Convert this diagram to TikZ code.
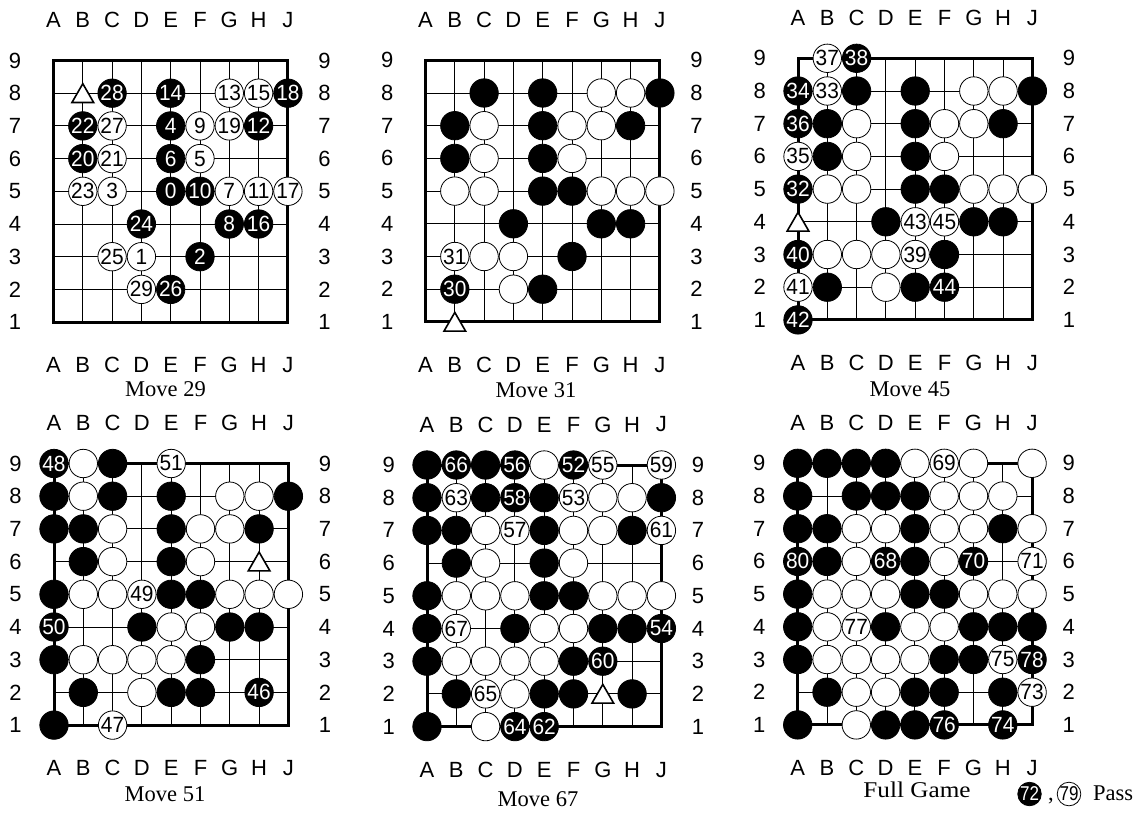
\documentclass[tikz,border=0pt]{standalone}
\usepackage{fontspec}
\setmainfont{Liberation Serif}
\setsansfont{Liberation Sans}
\newfontfamily\lblf{Liberation Sans}[Scale=2.2]
\newfontfamily\stf{Liberation Sans}[Scale=2.2]
\newfontfamily\legf{Liberation Sans}[Scale=2.0]
\newfontfamily\capf{Liberation Serif}[Scale=2.25]
\usepackage{graphicx}
\usetikzlibrary{shapes.geometric}

\tikzset{
  gridline/.style={line width=0.9pt, black},
  edge/.style={line width=3pt, line join=miter},
  lbl/.style={font=\lblf, inner sep=0pt},
  stonebase/.style={circle, inner sep=0pt, minimum size=28.4pt, line width=0.8pt, draw=black, font=\stf},
  bstone/.style={stonebase, fill=black, text=white},
  wstone/.style={stonebase, fill=white, text=black},
  trimark/.style={regular polygon, regular polygon sides=3, draw=black, fill=white, line width=1.6pt, minimum size=25pt, inner sep=0pt, yshift=-3pt},
  captext/.style={font=\capf, inner sep=0pt, anchor=base},
}

\newcommand\snum[1]{\scalebox{0.95}[1]{#1}}
\newcommand\Bst[3]{\node[bstone] (\bp-#1#2) at (#1-1,9-#2) {\snum{#3}};}
\newcommand\Wst[3]{\node[wstone] (\bp-#1#2) at (#1-1,9-#2) {\snum{#3}};}
\newcommand\Tri[2]{\node[trimark] (\bp-t#1#2) at (#1-1,9-#2) {};}

\newcommand\goboard[4]{%
 \begin{scope}[shift={(#2,#3)}, x=29.3pt, y=-32.7pt]
  \def\bp{#1}
  \foreach \i in {1,...,7}{\draw[gridline] (\i,0) -- (\i,8); \draw[gridline] (0,\i) -- (8,\i);}
  \draw[edge] (0,0) rectangle (8,8);
  \foreach \l [count=\i from 0] in {A,B,C,D,E,F,G,H,J}{%
    \node[lbl] (#1-top\l) at (\i,-1.24) {\l};
    \node[lbl] (#1-bot\l) at (\i,9.32) {\l};}
  \foreach \r in {1,...,9}{%
    \node[lbl] (#1-left\r) at (-1.31,9-\r) {\r};
    \node[lbl] (#1-right\r) at (9.25,9-\r) {\r};}
  #4
 \end{scope}}

\begin{document}
\begin{tikzpicture}[x=1pt, y=-1pt]
\useasboundingbox (0,0) rectangle (1145,812);

% Board 1: Move 29
\goboard{ba}{53.5}{60.5}{%
 \Tri28
 \Bst38{28}\Bst58{14}\Bst98{18}\Bst27{22}\Bst57{4}\Bst87{12}\Bst26{20}\Bst56{6}
 \Bst55{0}\Bst65{10}\Bst44{24}\Bst74{8}\Bst84{16}\Bst63{2}\Bst52{26}
 \Wst78{13}\Wst88{15}\Wst37{27}\Wst67{9}\Wst77{19}\Wst36{21}\Wst66{5}
 \Wst25{23}\Wst35{3}\Wst75{7}\Wst85{11}\Wst95{17}\Wst33{25}\Wst43{1}\Wst42{29}
}

% Board 2: Move 31
\goboard{bb}{425.5}{60.3}{%
 \Bst38{}\Bst58{}\Bst98{}\Bst27{}\Bst57{}\Bst87{}\Bst26{}\Bst56{}\Bst55{}\Bst65{}
 \Bst44{}\Bst74{}\Bst84{}\Bst63{}\Bst52{}\Bst22{30}
 \Wst78{}\Wst88{}\Wst37{}\Wst67{}\Wst77{}\Wst36{}\Wst66{}\Wst25{}\Wst35{}\Wst75{}
 \Wst85{}\Wst95{}\Wst23{31}\Wst33{}\Wst43{}\Wst42{}
 \Tri21
}

% Board 3: Move 45
\goboard{bc}{798}{58.3}{%
 \Bst39{38}\Bst18{34}\Bst38{}\Bst58{}\Bst98{}\Bst17{36}\Bst27{}\Bst57{}\Bst87{}
 \Bst26{}\Bst56{}\Bst15{32}\Bst55{}\Bst65{}\Bst44{}\Bst74{}\Bst84{}\Bst13{40}
 \Bst63{}\Bst22{}\Bst52{}\Bst62{44}\Bst11{42}
 \Wst29{37}\Wst28{33}\Wst78{}\Wst88{}\Wst37{}\Wst67{}\Wst77{}\Wst16{35}\Wst36{}
 \Wst66{}\Wst25{}\Wst35{}\Wst75{}\Wst85{}\Wst95{}\Wst54{43}\Wst64{45}\Wst23{}
 \Wst33{}\Wst43{}\Wst53{39}\Wst12{41}\Wst42{}
 \Tri14
}

% Board 4: Move 51
\goboard{bd}{54}{463.5}{%
 \Bst19{48}\Bst39{}\Bst18{}\Bst38{}\Bst58{}\Bst98{}\Bst17{}\Bst27{}\Bst57{}\Bst87{}
 \Bst26{}\Bst56{}\Bst15{}\Bst55{}\Bst65{}\Bst14{50}\Bst44{}\Bst74{}\Bst84{}
 \Bst13{}\Bst63{}\Bst22{}\Bst52{}\Bst62{}\Bst82{46}\Bst11{}
 \Wst29{}\Wst59{51}\Wst28{}\Wst78{}\Wst88{}\Wst37{}\Wst67{}\Wst77{}\Wst36{}\Wst66{}
 \Wst25{}\Wst35{}\Wst45{49}\Wst75{}\Wst85{}\Wst95{}\Wst54{}\Wst64{}\Wst23{}\Wst33{}
 \Wst43{}\Wst53{}\Wst42{}\Wst31{47}
 \Tri86
}

% Board 5: Move 67
\goboard{be}{427}{465}{%
 \Bst19{}\Bst29{66}\Bst39{}\Bst49{56}\Bst69{52}\Bst18{}\Bst38{}\Bst48{58}\Bst58{}\Bst98{}
 \Bst17{}\Bst27{}\Bst57{}\Bst87{}\Bst26{}\Bst56{}\Bst15{}\Bst55{}\Bst65{}
 \Bst14{}\Bst44{}\Bst74{}\Bst84{}\Bst94{54}\Bst13{}\Bst63{}\Bst73{60}
 \Bst22{}\Bst52{}\Bst62{}\Bst82{}\Bst11{}\Bst41{64}\Bst51{62}
 \Wst59{}\Wst79{55}\Wst99{59}\Wst28{63}\Wst68{53}\Wst78{}\Wst88{}\Wst37{}\Wst47{57}
 \Wst67{}\Wst77{}\Wst97{61}\Wst36{}\Wst66{}\Wst25{}\Wst35{}\Wst45{}\Wst75{}\Wst85{}
 \Wst95{}\Wst24{67}\Wst54{}\Wst64{}\Wst23{}\Wst33{}\Wst43{}\Wst53{}\Wst32{65}
 \Wst42{}\Wst31{}
 \Tri72
}

% Board 6: Full Game
\goboard{bf}{797.7}{463.3}{%
 \Bst19{}\Bst29{}\Bst39{}\Bst49{}\Bst18{}\Bst38{}\Bst48{}\Bst58{}\Bst17{}\Bst27{}
 \Bst57{}\Bst87{}\Bst16{80}\Bst26{}\Bst46{68}\Bst56{}\Bst76{70}\Bst15{}\Bst55{}
 \Bst65{}\Bst14{}\Bst44{}\Bst74{}\Bst84{}\Bst94{}\Bst13{}\Bst63{}\Bst73{}\Bst93{78}
 \Bst22{}\Bst52{}\Bst62{}\Bst82{}\Bst11{}\Bst41{}\Bst51{}\Bst61{76}\Bst81{74}
 \Wst59{}\Wst69{69}\Wst79{}\Wst99{}\Wst68{}\Wst78{}\Wst88{}\Wst37{}\Wst47{}\Wst67{}
 \Wst77{}\Wst97{}\Wst36{}\Wst66{}\Wst96{71}\Wst25{}\Wst35{}\Wst45{}\Wst75{}\Wst85{}
 \Wst95{}\Wst24{}\Wst34{77}\Wst54{}\Wst64{}\Wst23{}\Wst33{}\Wst43{}\Wst53{}
 \Wst83{75}\Wst32{}\Wst42{}\Wst92{73}\Wst31{}
}

% Captions
\node[captext] (cap1) at (165.5,396.7) {Move 29};
\node[captext] (cap2) at (536,397) {Move 31};
\node[captext] (cap3) at (910,396) {Move 45};
\node[captext] (cap4) at (165,801.7) {Move 51};
\node[captext] (cap5) at (538,806) {Move 67};
\node[captext] (cap6) at (917,797.3) {\scalebox{1.12}[1]{Full Game}};

% Legend
\node[bstone, minimum size=22.5pt, font=\legf] (leg72) at (1029.5,794) {\scalebox{0.85}[1]{72}};
\node[captext] (legcomma) at (1051,800.7) {,};
\node[wstone, minimum size=22pt, font=\legf] (leg79) at (1069,794) {\scalebox{0.85}[1]{79}};
\node[captext, anchor=base west] (legpass) at (1093,800.7) {Pass};
\end{tikzpicture}
\end{document}
